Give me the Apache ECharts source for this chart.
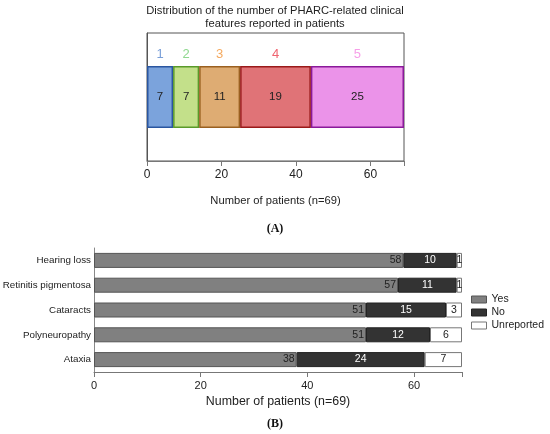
<!DOCTYPE html>
<html lang="en">
<head>
    <meta charset="UTF-8">
    <title>PHARC clinical features</title>
    <style>
        html, body, #chart {
            margin: 0;
            padding: 0;
            width: 100%;
            height: 100%;
            background: #fff;
        }
    </style>
</head>
<body>
    <div id="chart"></div>
    <script src="https://cdn.jsdelivr.net/npm/echarts@6/dist/echarts.min.js"></script>
    <script>
        // panel A: number of features per patient
        var groupNames = ['1', '2', '3', '4', '5'];
        var groupCounts = [7, 7, 11, 19, 25];

        // panel B: each feature, yes / no / unreported
        var features = ['Hearing loss', 'Retinitis pigmentosa', 'Cataracts', 'Polyneuropathy', 'Ataxia'];
        var yesVals = [58, 57, 51, 51, 38];
        var noVals = [10, 11, 15, 12, 24];
        var unrepVals = [1, 1, 3, 6, 7];
        var xTicks = [0, 20, 40, 60];

        var groupFill = ['#7ba3dc', '#c3e08a', '#deac73', '#e07377', '#eb93e9'];
        var groupBorder = ['#2a56a0', '#5a9a2a', '#9a6020', '#9a1a1a', '#8a1a9a'];
        var groupText = ['#7a9fd8', '#8fd88f', '#f5aa60', '#f06470', '#f79ee8'];

        var font = 'Liberation Sans, Arial, sans-serif';
        var chart = echarts.init(document.getElementById('chart'));

        var series = [];
        // coloured segments with the count inside
        groupCounts.forEach(function (v, i) {
            series.push({
                type: 'bar', xAxisIndex: 0, yAxisIndex: 0, stack: 'a',
                barWidth: 62, barGap: '-100%',
                data: [v],
                itemStyle: { color: groupFill[i], borderColor: groupBorder[i], borderWidth: 1.5 },
                label: { show: true, position: 'inside', color: '#222', fontSize: 11.5, fontFamily: font }
            });
        });
        // invisible copy, only to put the group number above each segment
        groupCounts.forEach(function (v, i) {
            series.push({
                type: 'bar', xAxisIndex: 0, yAxisIndex: 0, stack: 'b',
                barWidth: 62, barGap: '-100%', silent: true,
                data: [v],
                itemStyle: { color: 'rgba(0,0,0,0)' },
                label: {
                    show: true, position: 'top', distance: 5,
                    formatter: groupNames[i], color: groupText[i],
                    fontSize: 13, fontFamily: font
                }
            });
        });

        var lblB = { show: true, fontSize: 10.5, fontFamily: font };
        series.push({
            name: 'Yes', type: 'bar', xAxisIndex: 1, yAxisIndex: 1, stack: 'f', barWidth: 15,
            data: yesVals,
            itemStyle: { color: '#808080', borderColor: '#555', borderWidth: 1 },
            label: Object.assign({ position: 'insideRight', color: '#222', distance: 2 }, lblB)
        });
        series.push({
            name: 'No', type: 'bar', xAxisIndex: 1, yAxisIndex: 1, stack: 'f', barWidth: 15,
            data: noVals,
            itemStyle: { color: '#333333', borderColor: '#222', borderWidth: 1 },
            label: Object.assign({ position: 'inside', color: '#fff' }, lblB)
        });
        series.push({
            name: 'Unreported', type: 'bar', xAxisIndex: 1, yAxisIndex: 1, stack: 'f', barWidth: 15,
            data: unrepVals,
            itemStyle: { color: '#ffffff', borderColor: '#777', borderWidth: 1 },
            label: Object.assign({ position: 'inside', color: '#222' }, lblB)
        });

        var xAxisBase = function (idx, nameSize, gap, labelSize) {
            return {
                type: 'value', gridIndex: idx, min: 0, max: 69, interval: 20,
                name: 'Number of patients (n=69)', nameLocation: 'middle', nameGap: gap,
                nameTextStyle: { fontSize: nameSize, color: '#222', fontFamily: font },
                axisLine: { show: true, lineStyle: { color: '#777' } },
                axisTick: { show: true, length: 5, lineStyle: { color: '#777' } },
                axisLabel: {
                    fontSize: labelSize, color: '#222', fontFamily: font, margin: 8,
                    formatter: function (v) { return xTicks.indexOf(v) >= 0 ? v : ''; }
                },
                splitLine: { show: false }
            };
        };

        chart.setOption({
            animation: false,
            title: [{
                text: 'Distribution of the number of PHARC-related clinical\nfeatures reported in patients',
                left: 'center', top: -1,
                textStyle: { fontSize: 11.2, fontWeight: 'normal', color: '#222', fontFamily: font, lineHeight: 13 }
            }, {
                text: '(A)', left: 'center', top: 218,
                textStyle: { fontSize: 12, fontWeight: 'bold', color: '#111', fontFamily: 'Liberation Serif, Times New Roman, serif' }
            }, {
                text: '(B)', left: 'center', top: 413,
                textStyle: { fontSize: 12, fontWeight: 'bold', color: '#111', fontFamily: 'Liberation Serif, Times New Roman, serif' }
            }],
            legend: {
                data: ['Yes', 'No', 'Unreported'],
                orient: 'vertical', left: 466, top: 289,
                icon: 'rect',
                itemWidth: 15, itemHeight: 7, itemGap: 2,
                textStyle: { fontSize: 10.5, color: '#222', fontFamily: font },
                itemStyle: { borderWidth: 1 }
            },
            grid: [
                { left: 147, top: 33, width: 257, height: 128, show: true, borderColor: '#555', borderWidth: 1, backgroundColor: 'transparent', outerBoundsMode: 'none', containLabel: false },
                { left: 94, top: 248, width: 368, height: 124, outerBoundsMode: 'none', containLabel: false }
            ],
            xAxis: [xAxisBase(0, 11.2, 34, 12), xAxisBase(1, 12.4, 24, 11)],
            yAxis: [{
                type: 'category', gridIndex: 0, data: [''],
                axisLine: { show: true, lineStyle: { color: '#555' } },
                axisTick: { show: false }, axisLabel: { show: false }
            }, {
                type: 'category', gridIndex: 1, data: features, inverse: true,
                axisLine: { show: true, lineStyle: { color: '#888' } },
                axisTick: { show: false },
                axisLabel: { fontSize: 9.8, color: '#222', fontFamily: font, margin: 3 }
            }],
            series: series
        });

        window.addEventListener('resize', function () {
            chart.resize();
        });
    </script>
</body>
</html>
